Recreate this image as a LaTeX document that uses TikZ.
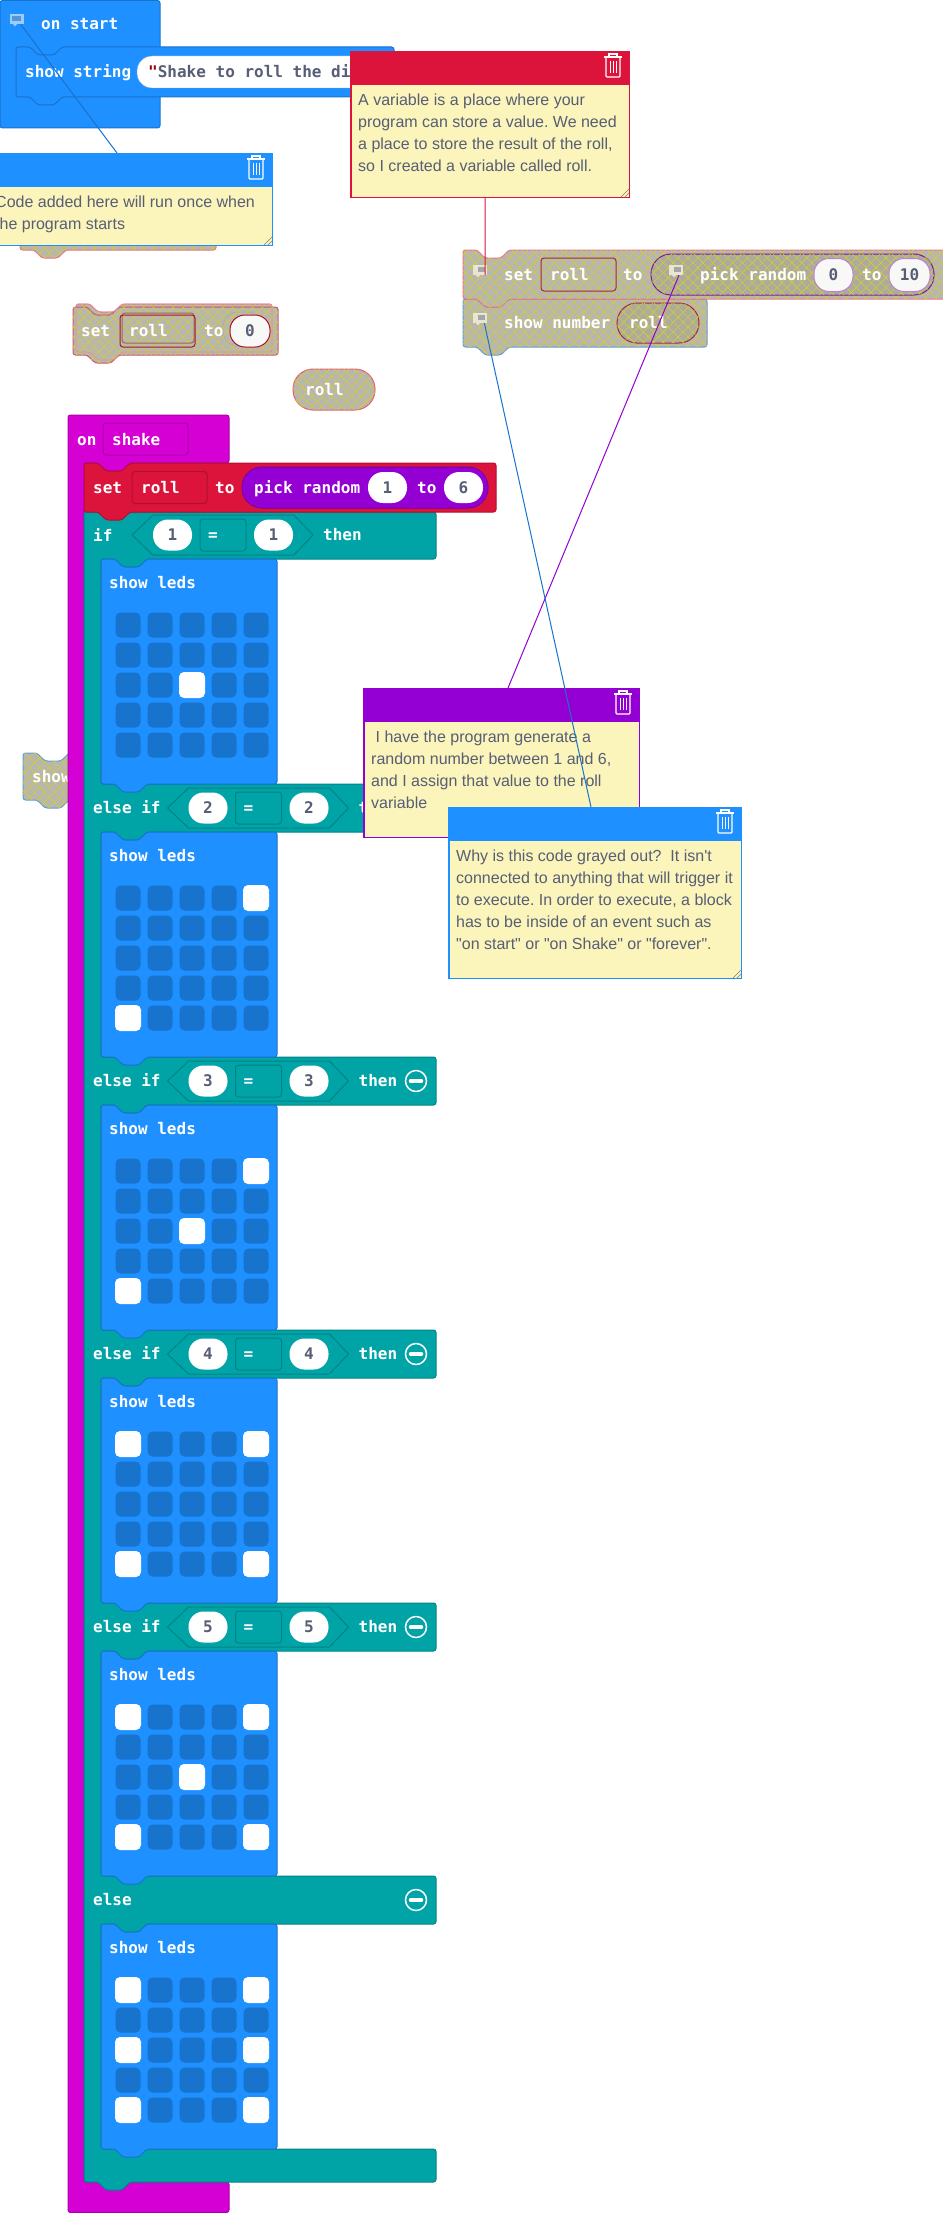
\documentclass[tikz,border=0pt]{standalone}
\usepackage{fontspec}
\usetikzlibrary{patterns.meta}
\newfontfamily\blockmono{DejaVu Sans Mono}
\newfontfamily\notefont{Liberation Sans}
\definecolor{bluefill}{HTML}{1E90FF}
\definecolor{blueline}{HTML}{1873CC}
\definecolor{tealfill}{HTML}{00A4A6}
\definecolor{tealline}{HTML}{008385}
\definecolor{magfill}{HTML}{D400D4}
\definecolor{magline}{HTML}{AA00AA}
\definecolor{redfill}{HTML}{DC143C}
\definecolor{redline}{HTML}{B01030}
\definecolor{purfill}{HTML}{9400D3}
\definecolor{purline}{HTML}{7600A9}
\definecolor{notepaper}{HTML}{FBF4BB}
\definecolor{inktext}{HTML}{575E75}
\definecolor{hatchgrey}{HTML}{B6B6B2}
\definecolor{hatchdark}{HTML}{ABAB9E}
\definecolor{hatchyellow}{HTML}{D8CC30}
\definecolor{paleicon}{HTML}{E6E6D2}
\tikzset{
  hatched/.style={fill=#1,line width=1pt,
    postaction={pattern={Lines[angle=45,distance=7pt,line width=.6pt]},pattern color=hatchyellow},
    postaction={pattern={Lines[angle=-45,distance=7pt,line width=.6pt]},pattern color=hatchyellow}},
  hatched/.default=hatchgrey,
  blk/.style={rounded corners=2.5pt,line width=1pt},
  lab/.style={anchor=base west,inner sep=0pt,text=white,font=\blockmono\bfseries\fontsize{16}{20}\selectfont},
  numpill/.style={rectangle,rounded corners=15pt,inner sep=0pt,minimum height=31pt,minimum width=39pt,fill=white,text=inktext,font=\blockmono\bfseries\fontsize{16}{20}\selectfont},
  fieldbox/.style={rectangle,rounded corners=3pt,inner sep=0pt,minimum height=32pt,line width=1pt},
  led/.style={rectangle,rounded corners=5pt,inner sep=0pt,minimum size=25pt,fill=blueline},
  ledon/.style={led,minimum size=26pt,fill=white},
  notebody/.style={rectangle,anchor=north west,inner sep=0pt,outer sep=0pt,fill=notepaper,line width=1.5pt},
  notehead/.style={rectangle,anchor=north west,inner sep=0pt,outer sep=0pt,minimum height=33pt},
  notetext/.style={anchor=base west,inner sep=0pt,text=inktext,font=\notefont\frenchspacing\fontsize{16}{22}\selectfont},
  tip/.style={rectangle,inner sep=0pt,minimum width=14pt,minimum height=10pt,fill=#1},
  wire/.style={line width=1pt}
}
% block with a notch on top and a tab below
\newcommand{\blockpath}[4]{(#1,#2) -- (#1+14,#2) -- (#1+22,#2+8) -- (#1+38,#2+8) -- (#1+46,#2) -- (#1+#3,#2) -- (#1+#3,#2+#4) -- (#1+46,#2+#4) -- (#1+38,#2+#4+8) -- (#1+22,#2+#4+8) -- (#1+14,#2+#4) -- (#1,#2+#4) -- cycle}
\newcommand{\trashcan}[2]{%
  \begin{scope}[shift={(#1,#2)},white,line width=1.2pt]
    \draw[rounded corners=1pt] (-7,3) -- (-7,23) -- (7,23) -- (7,3);
    \draw (-9,3) -- (9,3);
    \draw (-4,3) -- (-4,0) -- (4,0) -- (4,3);
    \foreach \bx in {-3,0,3} \draw[line width=.9pt] (\bx,7) -- (\bx,19);
  \end{scope}}
\newcommand{\notebox}[7]{%
  \node[notebody,draw=#6,minimum width=#4-1.5,minimum height=#5-1.5] (#1) at (#2+.75,#3+.75) {};
  \node[notehead,fill=#6,minimum width=#4-1.5] (#1Head) at (#1.north west) {};
  \trashcan{#2+#4-17}{#3+3}
  \foreach \ln [count=\li] in {#7}
    \node[notetext] (#1Line\li) at (#2+8,#3+32.5+22*\li) {\ln};
  \draw[gray,line width=.6pt] (#2+#4-9,#3+#5-1) -- (#2+#4-1,#3+#5-9);
  \draw[gray,line width=.6pt] (#2+#4-5,#3+#5-1) -- (#2+#4-1,#3+#5-5);}
\newcommand{\showleds}[2]{%
  \draw[blk,fill=bluefill,draw=blueline] \blockpath{101}{#1}{176}{225};
  \node[lab] (leds#1) at (109,#1+29.5) {show leds};
  \foreach \cx in {0,...,4} \foreach \cy in {0,...,4}
    \node[led] (led#1-\cx-\cy) at (128+32*\cx,#1+66+30*\cy) {};
  \foreach \cx/\cy in {#2}
    \node[ledon] (on#1-\cx-\cy) at (128+32*\cx,#1+66+30*\cy) {};}
\newcommand{\cmprow}[4]{%
  \draw[fill=tealfill,draw=tealline,line width=1pt] (#2,#1) -- (#2+21,#1-20) -- (#2+162,#1-20) -- (#2+181,#1) -- (#2+162,#1+20) -- (#2+21,#1+20) -- cycle;
  \node[numpill] (left#1) at (#2+40.5,#1) {#3};
  \node[fieldbox,draw=tealline,minimum width=46pt] (eq#1) at (#2+91,#1) {};
  \node[lab] (eqTxt#1) at (#2+76,#1+5.5) {=};
  \node[numpill] (right#1) at (#2+141.5,#1) {#4};
  \node[lab] (then#1) at (#2+191,#1+5.5) {then};}
\newcommand{\minusbtn}[1]{%
  \node[circle,draw=white,line width=1.5pt,minimum size=21pt,inner sep=0pt] (minus#1) at (416,#1) {};
  \draw[white,line width=3.5pt,line cap=round] (minus#1.center) ++(-5.5,0) -- ++(11,0);}
% one row of the if body, tab included
\newcommand{\tealrow}[1]{(436,#1) -- (436,#1+48) -- (147,#1+48) -- (139,#1+56) -- (123,#1+56) -- (115,#1+48) -- (101,#1+48) -- (101,#1+273)}
\begin{document}
\begin{tikzpicture}[x=1pt,y=-1pt]
  \useasboundingbox (0,0) rectangle (942,2213);
  % on start
  \draw[blk,fill=bluefill,draw=blueline] (0,.5) -- (160,.5) -- (160,128) -- (0,128) -- cycle;
  \node[tip=bluefill!45!white] (iconStart) at (17,19) {};
  \fill[bluefill!45!white] (13,24) -- (17,24) -- (15,26.5) -- cycle;
  \fill[blueline!75!white] (12,16) rectangle (21,21);
  \node[lab] (startTxt) at (41,29.5) {on start};
  \draw[blk,fill=bluefill,draw=blueline] \blockpath{16}{47}{378}{50};
  \node[lab] (showStr) at (25,77.5) {show string};
  \node[numpill,draw=blueline!60!white,minimum width=248pt,minimum height=32pt] (strPill) at (261,72) {};
  \node[lab,text=inktext] (strTxt) at (148,77.5) {\textcolor{red!60!black}{"}Shake to roll the dice\textcolor{red!60!black}{"}};
  % loose blocks
  \draw[blk,hatched,draw=redfill!60!white] \blockpath{20}{200}{196}{50};
  \draw[blk,hatched,draw=redfill!60!white] \blockpath{76}{304}{196}{48};
  \draw[blk,hatched,draw=redline!70!white] \blockpath{73}{307}{205}{48};
  \draw[blk,draw=redfill!50!white,line width=.7pt] \blockpath{76}{304}{196}{48};
  \node[lab] (setA) at (81,336.5) {set};
  \node[fieldbox,draw=gray!80!red,minimum width=72pt,minimum height=30pt] (rollBack) at (158,328) {};
  \node[fieldbox,draw=redline,minimum width=75pt] (rollA) at (157.5,331) {};
  \node[lab] (rollTxtA) at (129,336.5) {roll};
  \node[lab] (toA) at (204,336.5) {to};
  \node[numpill,draw=gray!70!white,fill=none,minimum width=40pt,minimum height=34pt] (zeroBack) at (243,329) {};
  \node[numpill,draw=redline,line width=1pt,fill=white!90!hatchgrey,minimum width=40pt,minimum height=32pt] (zeroA) at (250,331) {0};
  \node[numpill,hatched,draw=redfill!70!white,minimum width=82pt,minimum height=41pt,rounded corners=20pt] (rollPill) at (334,389.5) {};
  \node[lab] (rollPillTxt) at (305,395) {roll};
  \draw[blk,hatched,draw=blueline!70!white] \blockpath{23}{753}{70}{47};
  \node[lab] (showCut) at (32,782.5) {show};
  % stack on the right
  \draw[blk,hatched,draw=blueline!70!white] \blockpath{463}{299}{244}{48};
  \draw[blk,hatched,draw=redfill!60!white] \blockpath{463}{250}{490}{49};
  \node[fieldbox,draw=redline!80!gray,minimum width=75pt,minimum height=33pt] (rollB) at (578.5,274.5) {};
  \node[lab] (setB) at (504,280) {set};
  \node[lab] (rollTxtB) at (550,280) {roll};
  \node[lab] (toB) at (623,280) {to};
  \node[numpill,hatched=hatchdark,draw=purline!80!gray,minimum width=283pt,minimum height=41pt,rounded corners=20pt] (pickB) at (792.5,274.5) {};
  \node[tip=paleicon] (iconSet) at (480,270) {};
  \fill[paleicon] (476,275) -- (480,275) -- (478,277.5) -- cycle;
  \fill[gray!70!white] (478,267) rectangle (485,272);
  \node[tip=paleicon] (iconPick) at (676,270) {};
  \fill[paleicon] (672,275) -- (676,275) -- (674,277.5) -- cycle;
  \fill[gray!70!white] (674,267) rectangle (681,272);
  \node[lab] (pickTxtB) at (700,280) {pick random};
  \node[numpill,fill=white!90!hatchgrey,draw=purline!50!white,line width=1pt,minimum width=39pt,minimum height=33pt] (lowB) at (833.5,275) {0};
  \node[lab] (toPickB) at (862,280) {to};
  \node[numpill,fill=white!90!hatchgrey,draw=purline!50!white,line width=1pt,minimum width=41pt,minimum height=33pt] (highB) at (909.5,275) {10};
  \node[tip=paleicon] (iconShow) at (480,318) {};
  \fill[paleicon] (476,323) -- (480,323) -- (478,325.5) -- cycle;
  \fill[gray!70!white] (478,315) rectangle (485,320);
  \node[lab] (numTxt) at (504,328.5) {show number};
  \node[numpill,hatched=hatchdark,draw=redline!80!gray,minimum width=82pt,minimum height=40pt,rounded corners=20pt] (numRoll) at (658,323) {};
  \node[lab] (numRollTxt) at (629,328.5) {roll};
  % on shake
  \draw[blk,fill=magfill,draw=magline] (68,415) -- (229,415) -- (229,463) -- (130,463) -- (122,471) -- (106,471) -- (98,463) -- (84,463) -- (84,2182) -- (229,2182) -- (229,2212.5) -- (68,2212.5) -- cycle;
  \node[lab] (onTxt) at (77,445) {on};
  \node[fieldbox,draw=magline,minimum width=85pt] (shakeBox) at (145.5,439) {};
  \node[lab] (shakeTxt) at (112,445) {shake};
  % if / else body
  \draw[blk,fill=tealfill,draw=tealline] (84,512) -- (436,512) -- (436,559) -- (147,559) -- (139,567) -- (123,567) -- (115,559) -- (101,559) -- (101,784) -- \tealrow{784} -- \tealrow{1057} -- \tealrow{1330} -- \tealrow{1603} -- (436,1876) -- (436,1924) -- (147,1924) -- (139,1932) -- (123,1932) -- (115,1924) -- (101,1924) -- (101,2149) -- (436,2149) -- (436,2182) -- (130,2182) -- (122,2190) -- (106,2190) -- (98,2182) -- (84,2182) -- cycle;
  % set roll
  \draw[blk,fill=redfill,draw=redline] \blockpath{84}{463}{412}{49};
  \node[lab] (setC) at (93,493) {set};
  \node[fieldbox,draw=redline,minimum width=75pt] (rollC) at (169.5,487.5) {};
  \node[lab] (rollTxtC) at (141,493) {roll};
  \node[lab] (toC) at (215,493) {to};
  \node[numpill,fill=purfill,draw=purline,line width=1pt,minimum width=246pt,minimum height=41pt,rounded corners=20pt] (pickC) at (365,487.5) {};
  \node[lab] (pickTxtC) at (254,493) {pick random};
  \node[numpill] (lowC) at (387.5,487.5) {1};
  \node[lab] (toPickC) at (417,493) {to};
  \node[numpill] (highC) at (463.5,487.5) {6};
  % branches
  \node[lab] (ifTxt) at (93,541) {if};
  \cmprow{535}{132}{1}{1}
  \showleds{559}{2/2}
  \node[lab] (elseA) at (93,813.5) {else if};
  \cmprow{808}{167.5}{2}{2}
  \showleds{832}{4/0,0/4}
  \node[lab] (elseB) at (93,1086.5) {else if};
  \cmprow{1081}{167.5}{3}{3}
  \minusbtn{1081}
  \showleds{1105}{4/0,2/2,0/4}
  \node[lab] (elseC) at (93,1359.5) {else if};
  \cmprow{1354}{167.5}{4}{4}
  \minusbtn{1354}
  \showleds{1378}{0/0,4/0,0/4,4/4}
  \node[lab] (elseD) at (93,1632.5) {else if};
  \cmprow{1627}{167.5}{5}{5}
  \minusbtn{1627}
  \showleds{1651}{0/0,4/0,2/2,0/4,4/4}
  \node[lab] (elseE) at (93,1905.5) {else};
  \minusbtn{1900}
  \showleds{1924}{0/0,4/0,0/2,4/2,0/4,4/4}
  % comments
  \notebox{noteStart}{-13}{153}{286}{93}{bluefill}{Code added here will run once when,the program starts}
  \notebox{noteVar}{350}{51}{280}{147}{redfill}{A variable is a place where your,program can store a value. We need,{a place to store the result of the roll,},so I created a variable called roll.}
  \notebox{notePick}{363}{688}{277}{150}{purfill}{\hspace*{4.5pt}I have the program generate a,{random number between 1 and 6,},and I assign that value to the roll,variable}
  \notebox{noteGray}{448}{807}{294}{172}{bluefill}{Why is this code grayed out?\ \ It isn't,connected to anything that will trigger it,{to execute. In order to execute, a block},has to be inside of an event such as,"on start" or "on Shake" or "forever".}
  \coordinate (tailStart) at (117,153);
  \coordinate (tailVar) at (485,198);
  \coordinate (tailPick) at (508,688);
  \coordinate (tailGray) at (591,807);
  \draw[wire,blueline] (iconStart.-55) -- (tailStart);
  \draw[wire,redfill] (tailVar) -- (iconSet.-45);
  \draw[wire,purfill] (iconPick.-60) -- (tailPick);
  \draw[wire,blueline] (iconShow.-50) -- (tailGray);
\end{tikzpicture}
\end{document}
